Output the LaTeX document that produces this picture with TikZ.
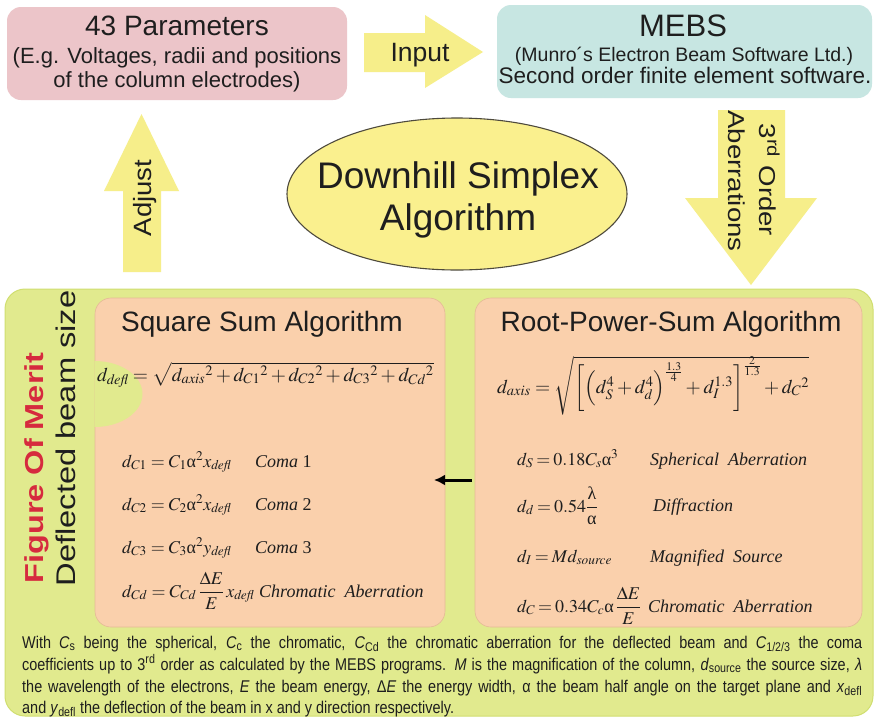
\documentclass[tikz,border=0pt]{standalone}
\usepackage{amsmath}
\usepackage{mathptmx}
\usepackage[no-math]{fontspec}
\setmainfont{Liberation Sans}
\newfontfamily\serifit{Liberation Serif}
\newfontfamily\narrowf[FakeStretch=0.85]{Liberation Sans}
\usetikzlibrary{shapes.geometric,arrows.meta}
\definecolor{pinkc}{RGB}{236,197,201}
\definecolor{tealc}{RGB}{199,230,226}
\definecolor{yelc}{RGB}{246,238,138}
\definecolor{ellc}{RGB}{250,240,142}
\definecolor{greenc}{RGB}{225,234,142}
\definecolor{greenl}{RGB}{208,222,112}
\definecolor{orangec}{RGB}{250,208,172}
\definecolor{orangel}{RGB}{228,186,150}
\definecolor{redc}{RGB}{214,42,62}
\definecolor{txt}{RGB}{30,30,30}
\newcommand{\myfm}{\fontsize{18}{20}\selectfont}
\newcommand{\tightmath}{\thickmuskip=3mu plus 2mu\relax}
\newcommand{\mylab}{\serifit\itshape\fontsize{18}{20}\selectfont}
\newcommand{\myfoot}{\narrowf\fontsize{17}{20}\selectfont}
\newcommand{\fsz}[1]{\fontsize{#1}{#1}\selectfont}
\newcommand{\ua}{\text{\serifit α}}
\newcommand{\ul}{\text{\serifit λ}}
\tikzset{
  box/.style={rectangle, rounded corners=14pt, inner sep=0pt},
  tx/.style={anchor=base, inner sep=0pt, text=txt},
  fm/.style={anchor=base west, inner sep=0pt, text=txt, font=\myfm},
  lab/.style={anchor=base west, inner sep=0pt, text=txt, font=\mylab},
  ft/.style={anchor=base west, inner sep=0pt, text=txt, font=\myfoot},
  blockarrow/.style={fill=yelc}
}
\begin{document}
\begin{tikzpicture}[x=1pt,y=-1pt]
\useasboundingbox[fill=white] (0,0) rectangle (877,718);

% top boxes
\node[box, fill=pinkc, minimum width=340pt, minimum height=93pt] (par) at (177,53.5) {};
\node[tx, font=\fsz{28}] (parT) at (177,35) {43 Parameters};
\node[tx, font=\fsz{22}] (parA) at (177,63.3) {(E.g. Voltages, radii and positions};
\node[tx, font=\fsz{22}] (parB) at (177,87.3) {of the column electrodes)};

\node[box, fill=tealc, minimum width=375pt, minimum height=93pt] (mebs) at (684.5,51.5) {};
\node[tx, font=\fsz{31}] (mebsT) at (683,36) {MEBS};
\node[tx, font=\fsz{19.5}] (mebsA) at (684,61) {(Munro´s Electron Beam Software Ltd.)};
\node[tx, font=\fsz{22.5}] (mebsB) at (685,83.3) {Second order finite element software.};

% block arrows
\path[blockarrow] (364,33) -- (425,33) -- (425,15) -- (483,52) -- (425,88) -- (425,72) -- (364,72) -- cycle;
\node[tx, font=\fsz{26.5}] (inp) at (420,61.7) {Input};

\path[blockarrow] (123,272) -- (123,191) -- (104,191) -- (141.5,114) -- (179,191) -- (161,191) -- (161,272) -- cycle;
\node[tx, rotate=90, font=\fsz{25}] (adj) at (151,198) {\scalebox{1.1}[1]{Adjust}};

\path[blockarrow] (718,110) -- (785,110) -- (785,198) -- (817,198) -- (751,285) -- (685,198) -- (718,198) -- cycle;
\node[tx, rotate=-90, font=\fsz{23}] (abA) at (728,181) {\scalebox{1.2}[1]{Aberrations}};
\node[tx, rotate=-90, font=\fsz{23}] (abB) at (759,180) {\scalebox{1.2}[1]{3\textsuperscript{rd} Order}};

% ellipse
\node[ellipse, draw=black!80!yellow, line width=1.1pt, fill=ellc, minimum width=340pt, minimum height=152pt] (dhs) at (457,194) {};
\node[tx, font=\fsz{37}] (dhsA) at (458,188) {Downhill Simplex};
\node[tx, font=\fsz{37}] (dhsB) at (458,230) {Algorithm};

% green area and panels
\node[box, rounded corners=20pt, fill=greenc, draw=greenl, line width=1pt, minimum width=868pt, minimum height=427pt] (gb) at (439,502.5) {};
\node[box, rounded corners=16pt, fill=orangec, draw=orangel, line width=0.6pt, minimum width=350pt, minimum height=329pt] (lp) at (270,462.5) {};
\node[box, rounded corners=16pt, fill=orangec, draw=orangel, line width=0.6pt, minimum width=387pt, minimum height=329pt] (rp) at (668.5,462.5) {};
\fill[greenc] (94.5,361) arc[start angle=-90, end angle=90, x radius=48, y radius=33] -- cycle;

% side labels
\node[tx, rotate=90, text=redc, font=\bfseries\fsz{26}] (fom) at (43,468) {\scalebox{1.25}[1]{Figure Of Merit}};
\node[tx, rotate=90, font=\fsz{27}] (dbs) at (75,438.5) {\scalebox{1.21}[1]{Deflected beam size}};

% panel titles
\node[tx, font=\fsz{28}] (sqT) at (262,331) {Square Sum Algorithm};
\node[tx, font=\fsz{28}] (rpT) at (671,331) {Root-Power-Sum Algorithm};

% left formulas
\node[fm, font=\fontsize{19.5}{21}\selectfont] (ddefl) at (97,381) {$d_{\mathit{defl}}=\sqrt{d_{\mathit{axis}}{}^{2}+d_{C1}{}^{2}+d_{C2}{}^{2}+d_{C3}{}^{2}+d_{Cd}{}^{2}}$};
\node[fm] (dc1) at (122,467) {$d_{C1}=C_1\ua^2x_{\mathit{defl}}$};
\node[lab] (lc1) at (255,467) {Coma \textup{1}};
\node[fm] (dc2) at (122,510) {$d_{C2}=C_2\ua^2x_{\mathit{defl}}$};
\node[lab] (lc2) at (255,510) {Coma \textup{2}};
\node[fm] (dc3) at (122,553) {$d_{C3}=C_3\ua^2y_{\mathit{defl}}$};
\node[lab] (lc3) at (255,553) {Coma \textup{3}};
\node[fm] (dcd) at (122,597) {$d_{Cd}=C_{Cd}\,\dfrac{\Delta E}{E}\,x_{\mathit{defl}}$};
\node[lab] (lcd) at (259,597) {Chromatic\ \ Aberration};

% right formulas
\node[fm, font=\fontsize{19.5}{21}\selectfont] (dax) at (497,393) {$d_{\mathit{axis}}=\sqrt{\biggl[\Bigl(d_S^4+d_d^4\Bigr)^{\frac{1.3}{4}}+d_I^{1.3}\biggr]^{\smash{\frac{2}{1.3}}}+d_C{}^{2}}$};
\node[fm] (ds) at (517,465) {\tightmath$d_S=0.18C_s\ua^3$};
\node[lab] (ls) at (650,465) {Spherical\ \ Aberration};
\node[fm] (dd) at (517,512) {\tightmath$d_d=0.54\dfrac{\ul}{\ua}$};
\node[lab] (ld) at (653,511) {Diffraction};
\node[fm] (di) at (517,562) {\tightmath$d_I=Md_{\mathit{source}}$};
\node[lab] (li) at (650,562) {Magnified\ \ Source};
\node[fm] (dcc) at (517,612) {\tightmath$d_C=0.34C_c\ua\,\dfrac{\Delta E}{E}$};
\node[lab] (lcc) at (648,612) {Chromatic\ \ Aberration};

% arrow between panels
\coordinate (aS) at (472,480);
\coordinate (aE) at (434,480);
\draw[line width=3pt, -{Latex[length=11pt,width=11pt]}] (aS) -- (aE);

% footer
\node[ft] (f1) at (22,648) {\makebox[840pt][s]{With \textit{C}\textsubscript{s} being the spherical, \textit{C}\textsubscript{c} the chromatic, \textit{C}\textsubscript{Cd} the chromatic aberration for the deflected beam and \textit{C}\textsubscript{1/2/3} the coma}};
\node[ft] (f2) at (22,670) {\makebox[840pt][s]{coefficients up to 3\textsuperscript{rd} order as calculated by the MEBS programs. \textit{M} is the magnification of the column, \textit{d}\textsubscript{source} the source size, \textit{λ}}};
\node[ft] (f3) at (22,692) {\makebox[840pt][s]{the wavelength of the electrons, \textit{E} the beam energy, Δ\textit{E} the energy width, α the beam half angle on the target plane and \textit{x}\textsubscript{defl}}};
\node[ft] (f4) at (22,713) {and \textit{y}\textsubscript{defl} the deflection of the beam in x and y direction respectively.};
\end{tikzpicture}
\end{document}
